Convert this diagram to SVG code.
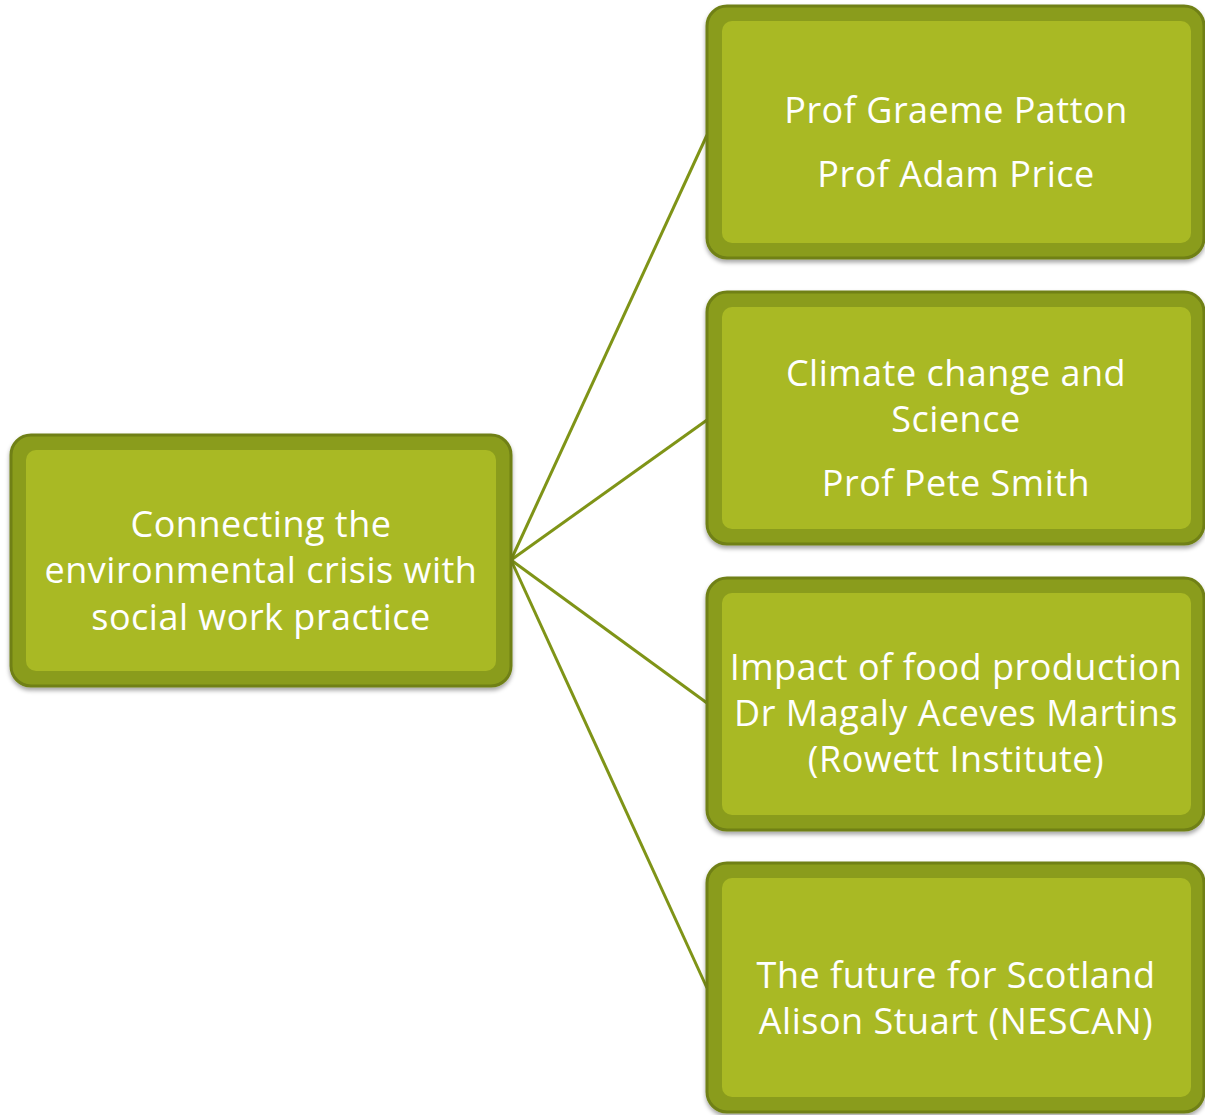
<svg xmlns="http://www.w3.org/2000/svg" width="1205" height="1115" viewBox="0 0 1205 1115">
<style>
.outer{fill:#8a9c1e;stroke:#6f8014;stroke-width:3}
.inner{fill:#a9b924}
.t{font-family:"Open Sans","Liberation Sans",sans-serif;font-size:36px;letter-spacing:0.5px;fill:#ffffff;text-anchor:middle}
.c{stroke:#7f9417;stroke-width:3;fill:none}
</style>
<defs>
<filter id="sh" x="-5%" y="-5%" width="110%" height="115%">
<feDropShadow dx="0" dy="3" stdDeviation="2" flood-color="#000" flood-opacity="0.35"/>
</filter>
</defs>
<g id="connectors">
<line class="c" x1="511" y1="560" x2="707" y2="135"/>
<line class="c" x1="511" y1="560" x2="707" y2="420"/>
<line class="c" x1="511" y1="560" x2="707" y2="703"/>
<line class="c" x1="511" y1="560" x2="707" y2="988"/>
</g>
<g id="root">
<rect class="outer" x="11" y="435" width="500" height="251" rx="20" filter="url(#sh)"/>
<rect class="inner" x="26" y="450" width="470" height="221" rx="10"/>
<text class="t" x="261" y="537">Connecting the</text>
<text class="t" x="261" y="583">environmental crisis with</text>
<text class="t" x="261" y="630">social work practice</text>
</g>
<g id="n1">
<rect class="outer" x="707" y="6" width="497" height="252" rx="20" filter="url(#sh)"/>
<rect class="inner" x="722" y="21" width="469" height="222" rx="10"/>
<text class="t" x="956" y="123">Prof Graeme Patton</text>
<text class="t" x="956" y="187">Prof Adam Price</text>
</g>
<g id="n2">
<rect class="outer" x="707" y="292" width="497" height="252" rx="20" filter="url(#sh)"/>
<rect class="inner" x="722" y="307" width="469" height="222" rx="10"/>
<text class="t" x="956" y="386">Climate change and</text>
<text class="t" x="956" y="432">Science</text>
<text class="t" x="956" y="496">Prof Pete Smith</text>
</g>
<g id="n3">
<rect class="outer" x="707" y="578" width="497" height="252" rx="20" filter="url(#sh)"/>
<rect class="inner" x="722" y="593" width="469" height="222" rx="10"/>
<text class="t" x="956" y="680">Impact of food production</text>
<text class="t" x="956" y="726">Dr Magaly Aceves Martins</text>
<text class="t" x="956" y="772">(Rowett Institute)</text>
</g>
<g id="n4">
<rect class="outer" x="707" y="863" width="497" height="249" rx="20" filter="url(#sh)"/>
<rect class="inner" x="722" y="878" width="469" height="219" rx="10"/>
<text class="t" x="956" y="988">The future for Scotland</text>
<text class="t" x="956" y="1034">Alison Stuart (NESCAN)</text>
</g>
</svg>
